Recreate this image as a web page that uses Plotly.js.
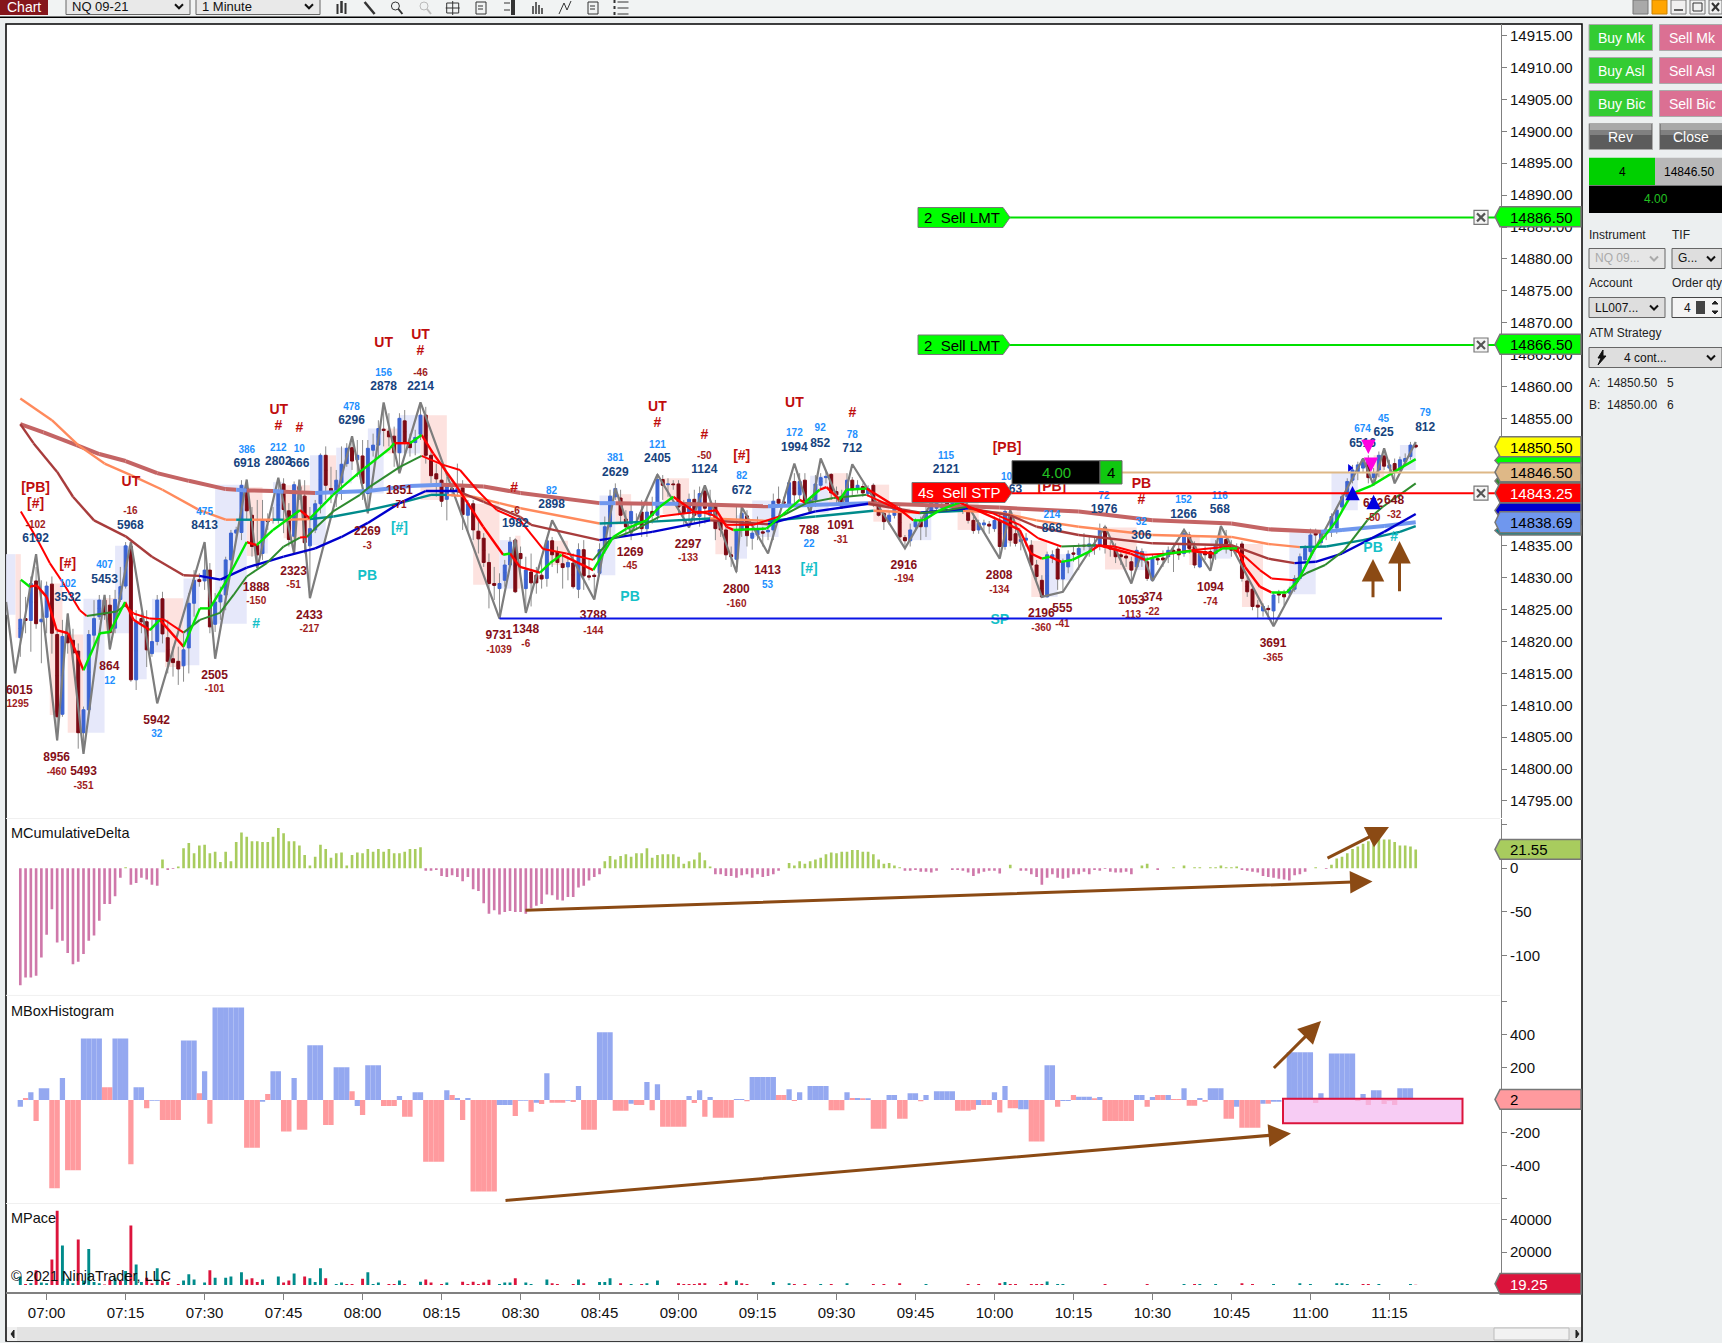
<!DOCTYPE html>
<html>
<head>
<meta charset="utf-8">
<script src="https://cdn.plot.ly/plotly-3.0.1.min.js"></script>
<style>html,body{margin:0;padding:0;background:#eceff0}</style>
</head>
<body>
<div id="plot" style="width:1722px;height:1343px"></div>
<script>
var W = 1722, H = 1343;
var FONT = 'Liberation Sans, Arial, sans-serif';

// 1 minute bars, first bar is 06:55, last is 11:20
var firstMinute = -5;
var priceBase = 14800;
var barOpen = [20.6,23.6,23.3,29.5,23.1,23.8,29,21.1,8.6,21,
 20.2,18.5,5.7,9.3,21,23.9,26.5,25.7,22.1,26.6,
 28.7,34.9,14,23.6,23.1,18.1,20,26.7,20.6,17.3,
 16.9,16.2,19,26,29.7,29.5,31.2,22.7,26.2,27.3,
 32.8,37,37.1,44,39.8,35.1,33.8,39.1,39,39.1,
 44.7,40.5,36.5,44.3,42.8,35,37.5,41.6,49.2,44,
 43.5,44.9,47.9,50.4,48.5,49.1,43.2,50,50.8,53.3,
 53,52.2,49.6,54.6,51.3,51.2,52.5,55.5,49.2,46.3,
 45.3,42.3,44,43.8,44.1,39.8,41.6,37.3,36.2,32.4,
 29.1,28.3,29.6,32,35.9,33.8,28.3,30.9,30.4,30.4,
 29.9,35.8,34.1,32.2,31.7,32.3,28.2,34.4,30.3,30.4,
 30.7,34.5,38,42.7,42.5,39.2,38.5,38.6,40.3,37.7,
 40.4,39.8,45.4,44.6,44.7,44.7,41.2,40.1,42.3,39.6,
 43.6,39.8,41.3,39,37.5,33.6,32.9,37.5,39.7,36.2,
 36.7,37.2,37.2,37.5,42.3,41.9,41.4,45.1,43,45.3,
 41.7,42.2,44.5,45.7,46.2,43.5,42.8,41.7,45.3,44,
 44.3,43.2,44.5,41.7,40.1,38.8,39.8,40.9,36.3,35.8,
 38,38.8,38,40.1,40.9,41,41.7,41.3,41.7,41.4,
 40.4,39,37.5,38.3,38.4,37.7,39,34.9,39.8,36.9,
 35.7,35.9,35.1,32,29.6,27,33.3,34.5,29.8,31.7,
 33.9,33.6,35.1,34.9,34.9,35.1,37.9,34.9,34.5,33.6,
 33.4,32.5,31.7,32.8,32.5,29.6,33,33.1,33.3,34.3,
 34.5,33.8,36.7,34.9,31.7,34.1,34.1,33.8,34.9,36,
 34.9,34.8,35.3,29.5,28.2,25.7,24.8,25.2,24.8,27.5,
 27.4,27.6,28.2,29.9,32.8,34.1,37.2,35.5,36.9,37.8,
 37.8,41.1,42.7,45.3,46.6,47.2,48.5,45.7,46.9,49.1,
 47.2,47.9,46.9,48.2,49,50.8];
var barClose = [23.5,23.3,29.1,22.8,23.5,28.7,21.3,8.2,20.8,19.8,
 18.2,5.7,9.3,21.1,23.6,26.5,24.2,21.4,26.6,28.6,
 35,14,23.1,23.1,18.7,20,26.5,21.2,16.9,16.7,
 15.7,18.7,26,29.6,29.4,31.2,22.3,26.2,27.3,32.8,
 37,37.5,44.5,40.5,34.9,33.6,39,38.8,39.2,43.7,
 40.7,36,44.6,43.8,35.5,37.7,41.6,49.2,44.5,43.3,
 45.3,47.8,50.3,48.3,49.2,44.8,50.3,50.8,53.4,53.1,
 52.1,49.6,55,51.2,50.4,52,55.5,49.2,46,45.5,
 42,44.3,43.8,44,39.9,41.6,37.5,36.1,32.4,29.1,
 28.8,29.1,32,35.6,27.8,33,31.2,29.2,29.2,29.8,
 35.8,33.6,32.4,31.6,32.4,28.6,34.4,30.3,30.1,30.2,
 34.4,38,42.8,44,39.8,38,40.4,38.8,37.7,40.3,
 39.8,45.4,44.5,44.7,44.6,41.1,40.1,42.3,39.8,43.2,
 40.9,41.3,37.7,37.5,33.6,33.3,37.4,40.1,36.6,37,
 37.5,37,37.4,42,41.7,41.7,44.9,43,45.1,41.7,
 42.2,44.7,45.7,45.9,43.3,43,41.7,45.3,43.8,44.5,
 43.3,44,41.7,39.8,38.8,39.8,40.9,36.4,35.8,37.5,
 38.8,38,40.1,41.7,41.7,41.5,41.3,41.7,41.4,40.4,
 39,37.4,38.6,38.6,38.1,39,34.9,40.4,35.9,35.4,
 36,36.2,32,30.2,27,33.6,33.6,29.8,32.5,33.7,
 33.7,34.6,35,35.3,35.3,37.7,34.8,34.5,33.3,33.3,
 33.1,31.2,34.3,34.1,29.9,33,32.8,32.8,34.3,33.8,
 33.6,36.9,34.6,32,33.8,33.6,33.1,35.1,36.2,34.9,
 34.3,34.5,29.9,27.8,25.5,25.4,25.5,25,27.3,27.3,
 27,28.2,29.9,33.3,34.6,36.7,36.7,37,37.2,39.6,
 40.6,42.7,45.1,46.9,47.7,48.5,45.7,46.4,49.2,47.5,
 47.7,46.8,48.5,48.7,50.8,50.5];
var barHigh = [29.6,27,30.2,31.7,29.6,29.4,30.2,21.8,23.4,24.4,
 22,19.7,9.8,21.8,26.5,27.3,27.3,27.3,28.1,31.7,
 35.6,35.6,24.9,24.4,24.9,23.4,27.3,27.8,23.4,19.2,
 19.2,21.3,27.6,31.2,30.7,35.4,32.3,27.6,28.6,33.3,
 37.5,38,45.3,45.3,41.1,42.2,42.2,40.1,41.1,45.6,
 45.6,41.7,45.1,45.3,45.3,41.1,42.2,49.5,50.6,47.4,
 46.9,50.6,51.1,52.1,51.6,51.6,51.6,52.6,54.7,57.3,
 55.8,53.7,55.8,56.3,52.6,53.2,57.3,56.8,50,47.9,
 47.4,45.8,45.3,47.9,45.3,42.2,42.2,39.1,37,33.8,
 31.7,30.7,32.8,36.4,36.2,34.9,33.3,33.8,31.7,32.8,
 36.4,36.4,34.9,33.8,33.3,33.8,35.4,35.9,32.8,30.7,
 35.4,39.6,43.8,44.8,43.8,40.6,41.7,40.1,42.2,42.2,
 42.7,46.4,46.1,45.6,45.3,45.3,42.2,43.2,43.8,44.3,
 44.5,43.8,42.2,39.6,38.5,34.9,41.1,41.1,40.6,38,
 39.6,38,38,43.2,44.3,42.7,45.3,46.4,46.4,46.4,
 42.7,46.1,46.4,46.6,46.4,44.3,43.8,46.4,45.8,45.3,
 44.8,44.5,44.8,42.2,40.6,40.4,41.4,41.7,36.7,38.5,
 39.3,39.6,41.1,42.5,42.2,42.2,42.2,42.2,42,41.9,
 40.8,39.6,39.1,39.1,38.9,39.6,40.1,41.1,40.6,37.7,
 37,37,35.9,32.8,30.4,34.1,34.3,34.9,33,34.3,
 34.9,35.4,37,36.4,36.4,38.5,38.3,35.7,35.4,34.3,
 33.8,33.3,34.9,34.6,33.3,33.6,33.6,34.3,34.9,35.1,
 35.1,37.5,37.2,35.7,34.3,34.9,34.6,35.9,38.1,37.5,
 35.9,35.4,35.7,30.2,28.6,26.5,26,25.7,27.8,28.1,
 28.1,28.6,30.4,33.8,35.1,37.7,37.7,37.5,37.7,40.1,
 41.1,43.2,45.6,47.7,48.2,48.7,49.2,47.2,49.8,50.3,
 48.5,48.7,49,49.5,51.3,51.3];
var barLow = [17.6,21.3,18.4,22,16.6,21.3,18.1,4.5,8.2,18.1,
 17.1,3.2,2.5,8.7,19.2,23.4,23.4,18.7,21.3,26.2,
 28.3,13.7,12.4,21.3,16,17.6,19.4,19.7,15,14.5,
 13.2,13.7,15,23.9,28.6,28.1,21.3,21.5,23.4,24.9,
 31.2,35.9,35.9,39,33.3,31.7,32.8,37.5,38.5,38.5,
 37,34.9,33.8,42.2,33.8,27,37,40.1,42.2,41.7,
 41.1,42.2,47.4,46.9,45.8,42.2,40.6,49,49,50.6,
 50.6,47.4,46.4,49.5,49,49.2,51.6,47.9,44.8,42.7,
 41.1,39,42.7,42.7,37.5,37,35.9,33.8,31.7,25.2,
 26.5,23.9,28.6,31.7,27.6,30.7,24.7,25.5,27.5,28.3,
 28.6,31.7,30.7,28.3,29.6,28.3,26.8,28.1,29.6,27,
 30.2,33.8,35.9,42.2,38.5,36.4,35.9,37.5,36.4,36.4,
 38.5,39,42.2,42.7,43.8,39.8,38.3,38.5,38.5,38,
 38.5,39,35.9,36.4,32.8,31.7,30.7,36.4,34.9,34.4,
 35.9,34.9,35.9,35.9,41.1,41.1,40.6,41.7,42.2,41.4,
 40.1,41.1,43.8,44.8,42.2,41.7,40.9,41.4,42.7,43.2,
 42.7,42.7,41.1,39.6,37.5,38.3,39.3,35.9,34.6,34.9,
 37.2,35.9,36.4,39.6,40.6,40.6,40.8,40.8,40.9,40,
 38.5,36.9,36.9,37,36.9,37.2,33.3,34.4,34.9,34.9,
 34.3,34.9,31.2,29.6,26.9,26.9,32.3,28.1,27.8,30.7,
 32.5,31.2,34.3,33.3,33.6,34.3,33.8,33.3,32.3,32,
 31.7,29.1,31.2,31.7,29.5,29.4,32,31.7,32.3,30.9,
 32.8,33.3,33.8,31.5,31.5,32.8,31.1,32.8,34.3,33.8,
 33.3,33.8,29.4,27,24.9,23.6,23.9,23.4,22.4,26,
 25.7,27,27.8,29.6,32.3,33.6,34.9,34.9,35.9,36.4,
 36.9,40.6,42.2,44.8,45.3,46.4,44.8,44.5,45.8,46.9,
 46.4,44.8,46.4,47.7,48.5,50.3];

// MCumulativeDelta, one value per bar
var deltaVal = [-134,-125,-125,-123,-102,-76,-47,-85,-83,-97,
 -110,-107,-98,-83,-77,-60,-41,-41,-32,-11,
 1,-19,-17,-11,-13,-19,-20,10,-2,-1,
 2,23,29,17,26,27,17,19,7,19,
 8,30,41,36,31,31,30,30,36,46,
 40,31,31,26,15,3,13,27,22,12,
 17,18,3,15,18,17,22,19,22,19,
 22,17,17,19,22,22,24,-3,-3,-2,
 -9,-10,-8,-10,-15,-10,-24,-26,-40,-52,
 -48,-53,-50,-49,-50,-50,-52,-46,-43,-41,
 -30,-31,-36,-37,-33,-33,-22,-20,-14,-10,
 -7,8,14,10,14,16,13,17,17,23,
 12,15,16,16,16,13,5,8,10,18,
 9,2,-7,-7,-9,-9,-11,-8,-7,-11,
 -7,-10,-9,-7,-3,0,6,3,8,5,
 8,10,12,16,18,17,19,19,21,21,
 19,19,16,10,5,6,3,1,-3,-3,
 -2,-4,-4,-5,-3,0,0,-2,-2,-3,
 -5,-9,-6,-4,-3,-3,-6,0,4,0,
 -3,-3,-7,-10,-19,-11,-7,-11,-12,-11,
 -7,-7,-4,-7,-2,-3,-1,-4,-5,-5,
 -4,-7,0,3,5,0,-2,0,0,1,
 0,3,0,1,1,0,1,1,3,1,
 1,2,-2,-3,-4,-5,-9,-10,-11,-12,
 -13,-14,-8,-7,-4,0,1,0,-1,4,
 11,13,17,22,25,28,31,30,34,33,
 33,30,26,26,25,21.55];

// MBoxHistogram, boxKind 1 = blue, 0 = red
var boxVal = [-41,12,48,-128,72,72,-540,-540,134,-430,
 -430,-430,376,376,376,376,78,78,376,376,
 376,-393,78,78,-50,-5,-5,-122,-122,-122,
 -122,364,364,364,41,176,-145,565,565,565,
 565,565,565,-292,-292,-292,-10,37,176,176,
 -192,-192,134,-182,-182,335,335,335,-153,-153,
 200,200,200,54,-37,-91,213,213,213,-37,
 -37,-37,25,-103,-103,48,48,-378,-378,-378,
 -378,60,31,12,-122,12,-560,-560,-560,-560,
 -560,-31,-31,-31,-97,-4,-4,-72,-17,-25,
 163,-17,-17,-17,-4,-12,85,-182,-182,-182,
 414,414,414,-66,-66,-66,-23,-31,-31,110,
 -62,97,-163,-163,-163,-163,-163,25,-19,60,
 -103,19,-108,-108,-108,-108,6,6,-8,140,
 140,140,140,140,31,31,66,-6,48,0,
 85,85,85,85,-62,-62,-62,48,12,12,
 10,10,-176,-176,-176,31,31,-114,-114,41,
 41,-8,31,0,54,54,54,54,-66,-66,
 -66,-60,-31,-31,-31,48,-76,85,-50,-50,
 -56,-56,-254,-254,-254,213,213,-41,-6,-6,
 31,20,20,20,10,19,-128,-128,-128,-128,
 -128,-128,31,31,-41,19,31,31,31,6,
 6,72,-35,-35,12,-10,72,72,72,-114,
 -114,-41,-170,-170,-170,-170,-23,-23,-10,-10,
 0,292,292,292,292,292,-19,41,0,285,
 285,285,285,285,-6,37,-31,60,60,-25,
 -6,-31,72,72,72,2];
var boxKind = [1,0,1,0,1,1,0,0,1,0,
 0,0,1,1,1,1,0,0,1,1,
 1,0,1,1,0,1,1,0,0,0,
 0,1,1,1,0,1,0,1,1,1,
 1,1,1,0,0,0,1,0,1,1,
 0,0,1,0,0,1,1,1,0,0,
 1,1,1,0,1,0,1,1,1,0,
 0,0,1,0,0,1,1,0,0,0,
 0,1,0,1,0,1,0,0,0,0,
 0,1,1,1,0,1,1,0,1,0,
 1,0,0,0,1,0,1,0,0,0,
 1,1,1,0,0,0,1,0,0,1,
 0,1,0,0,0,0,0,1,0,1,
 0,1,0,0,0,0,1,1,0,1,
 1,1,1,1,0,0,1,0,1,1,
 1,1,1,1,0,0,0,1,0,1,
 0,1,0,0,0,1,1,0,0,1,
 1,0,1,1,1,1,1,1,0,0,
 0,0,1,0,0,1,0,1,0,0,
 1,1,0,0,0,1,1,0,1,1,
 0,1,1,1,0,1,0,0,0,0,
 0,0,1,1,0,1,0,0,1,0,
 0,1,0,0,1,0,1,1,1,0,
 0,1,0,0,0,0,1,0,1,1,
 1,1,1,1,1,1,0,1,1,1,
 1,1,1,1,0,1,0,1,1,0,
 0,0,1,1,1,0];

// MPace
var paceRedMin = [-4,-2,1,2,6,11,12,14,16,19,20,22,23,25,31,38,39,40,45,46,49,53,57,58,60,65,66,68,72,73,75,79,80,81,82,83,84,89,96,97,100,102,109,113,120,121,122,123,124,125,128,129,132,133,142,144,149,157,159,162,175,177,181,183,184,187,188,189,201,209,218,227,229,250,251,260];
var paceRedVal = [600,8900,15600,45300,27700,300,3100,2700,36400,4400,1000,2700,1700,600,8900,3300,4000,1700,1500,2700,5200,4000,600,600,3700,600,600,600,3300,1500,600,1900,600,1900,600,1500,3100,4000,1000,600,600,1000,1000,600,1000,600,600,600,1000,1000,600,1900,1000,600,600,600,600,600,600,1000,600,600,1000,600,600,600,600,600,600,600,600,1000,600,600,600,19.25];
var paceTealMin = [-5,-3,-1,0,3,4,5,7,8,9,10,13,15,17,18,21,26,27,28,30,32,34,35,37,41,44,47,50,51,52,55,56,61,62,63,67,71,76,86,87,88,91,92,95,101,105,106,107,111,114,116,131,138,141,147,152,167,182,190,192,193,216,219,222,233,238,240,245,246,247,253,259];
var paceTealVal = [5200,1000,1500,1000,24100,3700,1000,2700,22000,1700,1000,4600,8500,12500,1700,10200,2700,6500,3300,1500,4400,4400,5200,7700,3300,5200,6900,4000,1700,10200,600,1500,7700,600,1500,2700,1900,1500,600,1500,1500,1500,600,3300,3300,1700,1700,4000,600,1000,2700,2700,1700,1000,600,1000,600,1700,2100,600,600,600,600,600,600,1000,600,1000,1000,600,600,600];

// swing line
var swingMin = [-7.7,-6,-2,2,4,7,11,12,16,21,30,32,38,40,44,47,48,50,58,61,64,67,71,86,89,91,96,104,108,111,116,122,125,131,132,137,142,145,147,151,153,163,168,173,181,183,189,193,201,206,208,210,216,221,223,233,250,252,254,256,260];
var swingPrice = [14826.2,14815,14833.7,14804.5,14824.4,14802.4,14827.3,14818.8,14835.6,14810.3,14835.6,14817.3,14845.4,14831.5,14845.7,14833.8,14845.4,14826.8,14852.2,14840.1,14857.5,14846.4,14857.5,14823.6,14836,14824.5,14839,14826.6,14844,14836.9,14846.2,14837.9,14844.5,14830.9,14841.1,14833.8,14847.9,14840.1,14848.7,14840.9,14847.8,14834.6,14841.7,14844,14833,14840.6,14827,14827.8,14838,14829.1,14834.1,14829.5,14837.5,14831.1,14838.1,14822.4,14848.7,14844.5,14850.3,14844.8,14851.3];

// moving averages, the Up flag says which colour the segment from that point takes
var slowMin = [-5,-0.6,5.7,10,15,21,27,34,36,38,43,45,51,61,69,75,83,90,105,108,115,120,137,156,181,196,210,225,232,242,246,254,260];
var slowPrice = [14854.1,14852.8,14850.8,14849.4,14848.3,14846.4,14845.2,14843.9,14843.8,14843.7,14843.6,14843.5,14843.3,14843.6,14844.4,14844.6,14844.3,14843.3,14841.7,14841.7,14841.6,14841.6,14841.2,14841.7,14841,14840.4,14839,14838.5,14837.6,14837.2,14837.5,14838.1,14838.7];
var slowUp = [0,0,0,0,0,0,0,0,1,0,1,0,1,1,1,0,0,0,1,0,1,0,1,0,0,0,0,0,0,1,1,1,1];

var midMin = [-5,1,6,11,16,22,29,34,36,39,43,45,50,54.5,61,67,73,76,81,86,90,105,115,126,137,146,157,166,174,181,188,196,210,225,232,238,243,250,257,260];
var midPrice = [14858.1,14854.7,14850.8,14847.9,14846.1,14843.8,14840.6,14839.1,14839.1,14839.1,14839.1,14839.1,14839.2,14839.6,14840.6,14841.7,14843,14843,14842.7,14841.7,14840.9,14838.5,14838.8,14839.3,14838.9,14839.6,14840.5,14840.2,14840.5,14840.2,14839,14838,14836.7,14836.4,14835.3,14834.8,14834.9,14835.9,14837.2,14838.1];
var midUp = [0,0,0,0,0,0,0,0,1,0,1,0,1,1,1,1,1,0,0,0,0,1,1,0,1,1,0,1,0,0,0,0,0,0,0,1,1,1,1,1];

var trendMin = [-5,-2.5,2,5,9,15,20,26,29,33,38,45,51,56,61,67,72,78,83,90,92,105,115,126,137,146,156,166,175,183,188,196,210,225,232,237,241,246,254,260];
var trendPrice = [14854.1,14851.1,14846.6,14842.7,14839,14836.5,14833.3,14830.4,14830.3,14829.7,14831.6,14833.3,14834.6,14836.4,14838.6,14841.7,14843.6,14843.6,14841.9,14839.5,14838.3,14835.9,14837.2,14839,14838.4,14840.4,14841.6,14840.2,14840.9,14839.8,14838,14836.7,14835.4,14835.1,14833,14832.3,14832.5,14833.8,14837.2,14840];
var trendUp = [0,0,0,0,0,0,0,0,1,1,1,1,1,1,1,1,1,0,0,0,0,1,1,0,1,1,0,1,0,0,0,0,0,0,0,1,1,1,1,1];

var fastMin = [-4.9,-3.2,-1.9,0,1.9,4.1,7,10.1,12,14.9,16.5,19.6,21.5,26,29.1,31,34.2,38,39.9,43,48.1,50,54.4,59.5,65.2,66,69,71.2,73.4,77.9,82.9,86.7,88,89.9,93.7,95.6,97.8,103.8,107.6,110.1,113.9,116.4,119,123.4,127.2,129.1,130.4,136.7,140.5,143,144,146.8,148.1,150.6,151.9,155.7,161.4,164.6,166.5,169.6,173.4,181,184.8,186.9,189,190.5,192.7,194.8,198.5,199.9,205.8,208.6,213,217.4,221.7,223.2,226.1,227.6,230.4,232.6,235.5,237.7,240.6,245,247.9,251.5,255.9,260];
var fastPrice = [14829.7,14828.6,14828.8,14827,14821.8,14821.3,14815.5,14821.3,14821.5,14826.2,14823.4,14821.8,14823.4,14819.2,14825.2,14825.2,14829.6,14835.6,14835.1,14837.5,14840.6,14839.3,14843,14846.6,14850.3,14851.1,14851.1,14852.4,14849.5,14844.3,14838,14833.6,14833.8,14831.7,14830.8,14832.3,14833.6,14831.2,14836.4,14837.7,14839,14841.1,14842.7,14840.1,14840.6,14838,14837.5,14837.7,14840.4,14842.2,14841.8,14843.8,14844.2,14842.2,14843.8,14844,14841.1,14839,14839,14840.6,14841.8,14839,14837.5,14833.8,14833,14833.3,14832.5,14832.8,14834.3,14835.1,14833.8,14832.8,14833.8,14834.2,14833.8,14834.6,14834.6,14831.7,14828.6,14827.7,14827.7,14829.6,14834.3,14839,14843.2,14844.4,14846.6,14848.6];
var fastUp = [1,0,0,0,0,0,1,1,1,0,0,1,0,1,1,1,1,0,1,1,0,1,1,1,1,0,1,0,0,0,0,1,0,0,1,1,0,1,1,1,1,1,0,0,0,0,1,1,1,0,1,0,0,1,1,0,0,1,1,1,0,0,0,0,1,0,1,1,0,0,0,1,1,0,1,1,0,0,0,1,1,1,1,1,1,1,1,1];

var signalMin = [-4.9,-1.9,0.6,3.2,6.3,7.6,13.3,14.9,16.5,19.6,22.2,26,29.1,32.9,35.5,38,41.8,45,48.1,49.4,51.3,54.4,59.5,61.4,67.1,71.2,75.3,78.5,81.7,85.5,89.9,94.3,98.7,103.8,106.9,111.4,116.4,124,126.6,129.1,134.2,139.9,144.3,149.4,155.7,162,165.8,170.9,174.7,179.7,184.8,188.3,192.7,199.2,202.8,208.6,213.7,217.4,224.6,227.6,230.4,232.6,237,239.2,242.8,246.4,250.8,253.7,260];
var signalPrice = [14840.4,14836.2,14832.3,14829.1,14824.9,14824,14824.7,14825.7,14824.4,14823.6,14823.5,14821.4,14823.4,14824.5,14827.3,14830.2,14832.3,14834.9,14836.3,14836.4,14838,14840.4,14843,14844.3,14847.4,14849.1,14847.7,14846.9,14843.8,14840.6,14839,14834.5,14833.8,14832.8,14835.9,14837.4,14839.6,14840.4,14839.8,14838.3,14838.3,14839.8,14841.7,14842.5,14843,14840.6,14840.1,14840.6,14841.1,14840.1,14838.3,14836.2,14834.9,14835.1,14834.9,14833.6,14833.8,14834.3,14834.9,14833.3,14831.2,14829.9,14829.6,14830.7,14832,14834.3,14839,14841.1,14844.8];
var signalUp = [0,0,0,0,0,1,1,0,0,0,0,1,1,1,1,1,1,1,0,1,1,1,1,1,1,0,0,0,0,0,0,0,0,1,1,1,0,0,0,0,0,1,1,1,0,0,1,1,0,0,0,0,1,0,0,0,0,0,0,0,0,0,1,1,1,1,1,1,1];

// shaded swing zones, zoneKind 1 = blue, 0 = pink
var zoneStart = [-7.7,-5.9,0.6,4,7,11,13,16,20,22.5,26,32,38,41,43,45,50,53,55,61,64,67,71,81,86,89,95,105,108,117,127,131,134,145,148.5,157,162,164,168,173,181,187,190,192,196,201,207,217,221,227,236,244,252,257];
var zoneEnd = [-5.9,-4.9,3,7,11,13,16,19,22.5,26,29,38,41,42,45,50,53,55,58,64,67,71,76,86,89.5,90,99,108,111,122,131,133,139,148.5,152,160,164,168,171,177,185,190,192,195,199,207,209,219,225,231,241,249,254,260];
var zoneLow = [14824.2,14820.6,14808.5,14805.7,14805.7,14821.3,14821.3,14814.1,14818.3,14816,14816.3,14822.8,14833.4,14833.8,14839,14836.2,14835.1,14843.2,14844.8,14843.2,14849.5,14849.5,14842.2,14828.9,14828.3,14828.3,14832,14830.4,14838.3,14840,14833.7,14833,14836.4,14840.1,14841.7,14838.8,14835.9,14835.9,14840.6,14837.5,14835.4,14827,14827,14829.6,14833.8,14831.3,14831.2,14832,14833,14825.4,14827.4,14840.6,14845.7,14846.9];
var zoneHigh = [14833.7,14833.7,14829.1,14821.1,14826.7,14826.8,14835,14823.1,14826.7,14826.8,14829.9,14844.6,14844.2,14839,14845,14844.5,14849.2,14849.2,14850.4,14853.4,14853.4,14855.5,14855.5,14841.6,14835.9,14836.6,14835.8,14842.9,14843.1,14845.6,14841.3,14839.8,14842.1,14846,14846.4,14844.6,14840.9,14840.1,14841.7,14841.7,14840.4,14835.8,14833.6,14833.7,14835.3,14837.9,14834.2,14836.7,14836.2,14835.3,14837.1,14846.6,14849.2,14850.8];
var zoneKind = [1,0,0,0,1,0,1,1,1,0,1,1,0,1,1,0,1,0,1,1,0,1,0,0,1,0,0,1,0,0,0,1,1,1,0,0,0,1,1,0,0,0,1,1,1,0,1,0,1,0,1,1,0,1];

// text labels on the price panel
var navyText = ['6192','5968','5453','3532','8413','6918','2802','666','6296','2878','2214','1982','2898','2629','2405','1124','672','1994','852','712','2121','63','868','1976','306','1266','568','6516','625','812'];
var navyMin = [-2.1,15.9,11,4,30,38,44,48,57.9,64,71,89,95.9,108,116,124.9,132,142,146.9,153,170.8,184,190.9,200.8,207.9,215.9,222.8,249.9,253.9,261.8];
var navyPrice = [14836.05,14838.15,14829.65,14826.85,14838.15,14847.85,14848.15,14847.85,14854.55,14859.85,14859.85,14838.45,14841.45,14846.45,14848.65,14846.85,14843.65,14850.35,14851.05,14850.25,14846.85,14843.75,14837.65,14840.65,14836.55,14839.85,14840.65,14851.05,14852.65,14853.55];

var lightText = ['102','407','475','386','212','10','478','156','12','32','82','381','121','82','172','92','78','115','22','53','10','214','72','32','152','116','674','45','79'];
var lightMin = [4,11,30,38,44,48,57.9,64,12,20.9,95.9,108,116,132,142,146.9,153,170.8,144.8,136.9,182.3,190.9,200.8,207.9,215.9,222.8,249.9,253.9,261.8];
var lightPrice = [14828.95,14831.85,14840.25,14849.95,14850.25,14850.05,14856.75,14862.05,14813.75,14805.35,14843.55,14848.65,14850.75,14845.85,14852.55,14853.35,14852.35,14849.05,14835.15,14828.85,14845.75,14839.75,14842.75,14838.65,14842.05,14842.75,14853.25,14854.85,14855.75];

var lowText = ['6015','8956','5493','864','5942','2505','1888','2323','2433','2269','1851','9731','1348','3788','1269','2297','2800','1413','788','1091','2916','2808','2196','555','1053','374','1094','3691','672','648'];
var lowMin = [-5.2,1.9,7,11.9,20.9,31.9,39.8,46.9,49.9,60.9,67,85.9,91,103.8,110.8,121.8,131,136.9,144.8,150.8,162.8,180.9,188.9,192.9,206,210,221,232.9,251.9,255.9];
var lowPrice = [14812.25,14801.75,14799.55,14815.95,14807.55,14814.65,14828.35,14830.85,14823.95,14837.15,14843.55,14820.85,14821.75,14823.95,14833.85,14835.15,14828.05,14831.05,14837.35,14838.05,14831.85,14830.25,14824.25,14825.05,14826.35,14826.75,14828.35,14819.65,14841.55,14842.05];

var negText = ['-102','-16','1295','-460','-351','-150','-51','-217','-3','-101','-71','-46','-1039','-6','-6','-144','-45','-133','-50','-160','-31','-194','-134','-360','-41','-113','-22','-74','-365','-50','-32'];
var negMin = [-2.1,15.9,-5.5,1.9,7,39.8,46.9,49.9,60.9,31.9,67,71,85.9,89,91,103.8,110.8,121.8,124.9,131,150.8,162.8,180.9,188.9,192.9,206,210,221,232.9,251.9,255.9];
var negPrice = [14838.25,14840.35,14810.05,14799.45,14797.25,14826.25,14828.75,14821.85,14834.95,14812.45,14841.35,14862.05,14818.65,14840.45,14819.55,14821.65,14831.75,14832.95,14849.05,14825.85,14835.85,14829.65,14828.05,14822.05,14822.75,14824.15,14824.55,14826.15,14817.35,14839.35,14839.75];

var flagText = ['[PB]','[#]','[#]','UT','UT','#','#','UT','UT','#','#','UT','#','#','[#]','UT','#','[PB]','[PB]','PB','#'];
var flagMin = [-2.1,-2.1,4,16,44.1,44,48,64,71,71,88.8,116,116,124.9,132,142,153,182.4,190.9,207.9,207.9];
var flagPrice = [14844.05,14841.55,14832.15,14844.95,14856.25,14853.65,14853.45,14866.75,14867.95,14865.45,14844.05,14856.65,14854.25,14852.35,14848.95,14857.25,14855.75,14850.25,14844.15,14844.55,14842.05];

var tealText = ['#','PB','[#]','PB','[#]','SP','PB','#'];
var tealMin = [39.8,60.9,67,110.8,144.8,181,251.9,255.9];
var tealPrice = [14822.65,14830.15,14837.75,14826.85,14831.35,14823.25,14834.55,14836.25];

// small entry arrows, price is where the head points
var entryDownMin = [251,251.5], entryDownPrice = [14849.4,14846.6];
var entryUpMin = [248,252], entryUpPrice = [14844.4,14843];
var entryMarkMin = [247.5], entryMarkPrice = [14847.2];

// order and price levels
var supportPrice = 14823.6;
var limit1 = 14886.5, limit2 = 14866.5, stopPrice = 14843.25, avgPrice = 14846.5;
var priceTicks = [14915,14910,14905,14900,14895,14890,14885,14880,14875,14870,14865,14860,14855,14850,14845,14840,14835,14830,14825,14820,14815,14810,14805,14800,14795];
var timeTickMin = [0,15,30,45,60,75,90,105,120,135,150,165,180,195,210,225,240,255];

function msOf(m) { return Date.UTC(2021, 7, 4, 7, 0, 0) + m * 60000; }
function timeOf(m) { return new Date(msOf(m)).toISOString().slice(0, 19).replace('T', ' '); }
function px(v) { return v / W; }
function py(v) { return 1 - v / H; }

var barTime = barOpen.map(function (v, i) { return timeOf(firstMinute + i); });
var o = barOpen.map(function (v) { return v + priceBase; });
var c = barClose.map(function (v) { return v + priceBase; });
var h = barHigh.map(function (v) { return v + priceBase; });
var l = barLow.map(function (v) { return v + priceBase; });
var mid = o.map(function (v, i) { return (v + c[i]) / 2; });
var top_ = o.map(function (v, i) { return Math.max(v, c[i]); });
var bot = o.map(function (v, i) { return Math.min(v, c[i]); });

var data = [];

// wicks first, then bodies on top of them
data.push({
  type: 'candlestick', x: barTime, open: mid, high: h, low: l, close: mid, whiskerwidth: 0,
  increasing: { line: { color: '#8c8c8c', width: 1 }, fillcolor: '#8c8c8c' },
  decreasing: { line: { color: '#8c8c8c', width: 1 }, fillcolor: '#8c8c8c' },
  xaxis: 'x', yaxis: 'y', hoverinfo: 'skip', showlegend: false
});
data.push({
  type: 'candlestick', x: barTime, open: o, high: top_, low: bot, close: c, whiskerwidth: 0,
  increasing: { line: { color: '#3c64d2', width: 1 }, fillcolor: '#3c64d2' },
  decreasing: { line: { color: '#7d0a14', width: 1 }, fillcolor: '#7d0a14' },
  xaxis: 'x', yaxis: 'y', hoverinfo: 'skip', showlegend: false
});

// two coloured line
function colouredLine(mins, prices, flags, upColor, downColor, width) {
  var up = { x: [], y: [] }, down = { x: [], y: [] };
  for (var i = 0; i < mins.length - 1; i++) {
    var t = flags[i] ? up : down;
    t.x.push(timeOf(mins[i]), timeOf(mins[i + 1]), null);
    t.y.push(prices[i], prices[i + 1], null);
  }
  [[down, downColor], [up, upColor]].forEach(function (p) {
    data.push({ type: 'scatter', mode: 'lines', x: p[0].x, y: p[0].y, line: { color: p[1], width: width, shape: 'linear' }, xaxis: 'x', yaxis: 'y', hoverinfo: 'skip' });
  });
}

data.push({ type: 'scatter', mode: 'lines', x: swingMin.map(timeOf), y: swingPrice, line: { color: '#7d7d7d', width: 2.2 }, xaxis: 'x', yaxis: 'y', hoverinfo: 'skip' });
colouredLine(slowMin, slowPrice, slowUp, '#6f97ee', '#c46464', 4);
colouredLine(midMin, midPrice, midUp, '#008b8b', '#ff8a5c', 2.4);
colouredLine(trendMin, trendPrice, trendUp, '#0000cd', '#a83c3c', 2.4);
colouredLine(signalMin, signalPrice, signalUp, '#2e8b2e', '#ff0000', 2);
colouredLine(fastMin, fastPrice, fastUp, '#00e800', '#ff0000', 2.4);

function labels(mins, prices, texts, color, size) {
  data.push({
    type: 'scatter', mode: 'text', x: mins.map(timeOf), y: prices, text: texts,
    textposition: 'middle center', cliponaxis: true,
    textfont: { family: FONT, size: size, color: color, weight: 'bold' },
    xaxis: 'x', yaxis: 'y', hoverinfo: 'skip'
  });
}
labels(navyMin, navyPrice, navyText, '#16437e', 12);
labels(lightMin, lightPrice, lightText, '#1e90ff', 10);
labels(lowMin, lowPrice, lowText, '#850f18', 12);
labels(negMin, negPrice, negText, '#a01c1c', 10);
labels(flagMin, flagPrice, flagText, '#c00d0d', 14);
labels(tealMin, tealPrice, tealText, '#14c0c8', 14);

data.push({ type: 'scatter', mode: 'markers', x: entryMarkMin.map(timeOf), y: entryMarkPrice, marker: { symbol: 'triangle-right', size: 7, color: '#0000e0' }, xaxis: 'x', yaxis: 'y', hoverinfo: 'skip' });

// delta panel
data.push({
  type: 'bar', x: barTime, y: deltaVal, width: 30000,
  marker: { color: deltaVal.map(function (v) { return v >= 0 ? '#a8cc5e' : '#cf78aa'; }), line: { width: 0 } },
  xaxis: 'x', yaxis: 'y2', hoverinfo: 'skip'
});
// box histogram panel
data.push({
  type: 'bar', x: barTime, y: boxVal, width: 60000,
  marker: { color: boxKind.map(function (k) { return k ? '#94a8f0' : '#ff9a9e'; }), line: { width: 0 } },
  xaxis: 'x', yaxis: 'y3', hoverinfo: 'skip'
});
// pace panel
data.push({
  type: 'bar', x: paceRedMin.map(timeOf), y: paceRedVal, width: 33000,
  marker: { color: '#dc143c', line: { width: 0 } }, xaxis: 'x', yaxis: 'y4', hoverinfo: 'skip'
});
data.push({
  type: 'bar', x: paceTealMin.map(timeOf), y: paceTealVal, width: 33000,
  marker: { color: '#008b8b', line: { width: 0 } }, xaxis: 'x', yaxis: 'y4', hoverinfo: 'skip'
});

var shapes = [];
var ann = [];

function rect(x0, y0, x1, y1, fill, lineColor, lineWidth, layer) {
  shapes.push({
    type: 'rect', xref: 'paper', yref: 'paper', x0: px(x0), x1: px(x1), y0: py(y0), y1: py(y1),
    fillcolor: fill, line: { color: lineColor || fill, width: lineWidth === undefined ? 0 : lineWidth }, layer: layer || 'above'
  });
}
function seg(x0, y0, x1, y1, color, width) {
  shapes.push({ type: 'line', xref: 'paper', yref: 'paper', x0: px(x0), x1: px(x1), y0: py(y0), y1: py(y1), line: { color: color, width: width }, layer: 'above' });
}
function text(x, y, s, size, color, anchor, weight) {
  ann.push({ xref: 'paper', yref: 'paper', x: px(anchor ? x : x - 2), y: py(y), text: s, showarrow: false, xanchor: anchor || 'left', yanchor: 'middle', font: { family: FONT, size: size, color: color, weight: weight || 'normal' } });
}
function poly(pts, fill, lineColor, lineWidth) {
  var d = pts.map(function (p, i) { return (i ? 'L' : 'M') + px(p[0]) + ',' + py(p[1]); }).join(' ') + ' Z';
  shapes.push({ type: 'path', xref: 'paper', yref: 'paper', path: d, fillcolor: fill, line: { color: lineColor || fill, width: lineWidth === undefined ? 1 : lineWidth }, layer: 'above' });
}
// price tag on the right of the axis
function tag(y0, y1, fill, s, color, border) {
  var m = (y0 + y1) / 2;
  poly([[1495, m], [1500, y0], [1581, y0], [1581, y1], [1500, y1]], fill, border || '#777', 1.5);
  if (s) text(1510, m + 0.5, s, 15, color);
}
function closeBox(y) {
  rect(1474, y - 7, 1488, y + 7, '#f4f4f4', '#777', 1.2);
  seg(1477, y - 4, 1485, y + 4, '#555', 2.2);
  seg(1477, y + 4, 1485, y - 4, '#555', 2.2);
}
function arrow(x0, y0, x1, y1) {
  ann.push({
    xref: 'paper', yref: 'paper', x: px(x1), y: py(y1), ax: x0 - x1, ay: y0 - y1, axref: 'pixel', ayref: 'pixel',
    text: ' ', font: { size: 1 }, borderpad: 0, showarrow: true, arrowhead: 2, arrowsize: 1.5, arrowwidth: 3, arrowcolor: '#8b4a14', standoff: 0
  });
}
function entryArrow(m, price, dy, color) {
  ann.push({
    xref: 'x', yref: 'y', x: timeOf(m), y: price, ax: 0, ay: dy, axref: 'pixel', ayref: 'pixel',
    text: ' ', font: { size: 1 }, borderpad: 0, showarrow: true, arrowhead: 2, arrowsize: 1.1, arrowwidth: 2.6, arrowcolor: color, standoff: 0
  });
}
entryArrow(entryDownMin[0], entryDownPrice[0], -12, '#ff00e0');
entryArrow(entryDownMin[1], entryDownPrice[1], -8, '#ff00e0');
entryArrow(entryUpMin[0], entryUpPrice[0], 14, '#0000e0');
entryArrow(entryUpMin[1], entryUpPrice[1], 12, '#0000e0');

// white chart area behind the panels
rect(6, 24, 1582, 1341, '#ffffff', '#000', 1.5, 'below');

// swing zones in price coordinates
for (var z = 0; z < zoneStart.length; z++) {
  shapes.push({
    type: 'rect', xref: 'x', yref: 'y', x0: timeOf(zoneStart[z]), x1: timeOf(zoneEnd[z]), y0: zoneLow[z], y1: zoneHigh[z],
    fillcolor: zoneKind[z] ? '#e6e8fa' : '#fde2df', line: { width: 0 }, layer: 'below'
  });
}

// panel separators
[818.5, 995.4, 1203.5].forEach(function (y) { seg(6, y, 1500, y, '#f0f0f0', 1); });

// support line, drawn in price coordinates
shapes.push({ type: 'line', xref: 'x', yref: 'y', x0: timeOf(86), x1: timeOf(265), y0: supportPrice, y1: supportPrice, line: { color: '#0a14e6', width: 2 }, layer: 'above' });

// working orders
function orderLine(price, color, x0) {
  shapes.push({ type: 'line', xref: 'paper', yref: 'y', x0: px(x0), x1: px(1495), y0: price, y1: price, line: { color: color, width: 2 }, layer: 'above' });
}
orderLine(limit1, '#00e000', 1008);
orderLine(limit2, '#00e000', 1008);
orderLine(avgPrice, '#deb887', 1122);
orderLine(stopPrice, '#ff0000', 1010);
closeBox(217.4); closeBox(345); closeBox(493.2);
function orderTag(x0, x1, y0, y1, fill, s, color) {
  poly([[x0, y0], [x1 - 7, y0], [x1, (y0 + y1) / 2], [x1 - 7, y1], [x0, y1]], fill, '#777', 1);
  text(x0 + 6, (y0 + y1) / 2 + 0.5, s, 15, color);
}
orderTag(918, 1010, 207.5, 227.5, '#00ff00', '2  Sell LMT', '#000');
orderTag(918, 1010, 335, 354.5, '#00ff00', '2  Sell LMT', '#000');
orderTag(912, 1012, 482.5, 502.5, '#ff0000', '4s  Sell STP', '#fff');
rect(1012, 460.7, 1100, 484, '#000', '#666', 1);
rect(1100, 460.7, 1122, 484, '#10c810', '#666', 1);
text(1056, 472.5, '4.00', 15, '#22c022', 'center');
text(1111, 472.5, '4', 15, '#000', 'center');

// right axis tags, back to front
tag(206.7, 226.7, '#00ff00', '14886.50', '#000');
tag(334.3, 354.3, '#00ff00', '14866.50', '#000');
tag(455, 466, '#00ff00', '', '#000');
tag(436.7, 456.7, '#ffff00', '14850.50', '#000');
tag(475, 487, '#2e8b2e', '', '#000');
tag(462.7, 481.7, '#deb887', '14846.50', '#000');
tag(483, 502.7, '#ff0000', '14843.25', '#fff');
tag(503, 518, '#0000cd', '', '#fff');
tag(526, 535, '#008b8b', '', '#fff');
tag(511.7, 532.7, '#6f97ee', '14838.69', '#000');
tag(839.6, 859.3, '#a8cc5e', '21.55', '#000');
tag(1089.6, 1109.3, '#ff9a9e', '2', '#000');
tag(1273.6, 1294, '#dc143c', '19.25', '#fff');

// pink box on the histogram
rect(1283, 1098.8, 1462.5, 1123.3, 'rgba(244,184,240,0.72)', '#dc143c', 2);

// drawn arrows
arrow(525, 910.3, 1372.5, 881.4);
arrow(1327, 858.3, 1389, 827);
arrow(505, 1200.5, 1291, 1133.5);
arrow(1273.4, 1068.5, 1321, 1021);
arrow(1373, 598.3, 1373, 559);
arrow(1399.5, 592.3, 1399.5, 541);

// panel names
text(11, 833, 'MCumulativeDelta', 14.5, '#111');
text(11, 1010.7, 'MBoxHistogram', 14.5, '#111');
text(11, 1218, 'MPace', 14.5, '#111');
text(11, 1276, '\u00a9 2021 NinjaTrader, LLC', 14.5, '#111');

// bottom scrollbar
rect(7, 1327, 1581, 1341, '#e3e3e3');
rect(7, 1327, 17, 1341, '#f0f0f0');
poly([[11, 1334], [14, 1330], [14, 1338]], '#222');
rect(1494, 1328, 1569, 1340, '#f2f2f2', '#bbb', 1);
poly([[1576, 1330], [1579, 1334], [1576, 1338]], '#222');

// top toolbar
rect(0, 0, 1722, 17, '#f1f3f3');
seg(0, 17.3, 1722, 17.3, '#000', 1.5);
rect(0, 0, 48, 15, '#85161c');
text(24, 7, 'Chart', 14, '#fff', 'center');
function selectBox(x0, y0, x1, y1, s, fill, color, size) {
  rect(x0, y0, x1, y1, fill || '#e9e9e9', '#666', 1);
  text(x0 + 6, (y0 + y1) / 2, s, size || 13, color || '#111');
  shapes.push({
    type: 'path', xref: 'paper', yref: 'paper', layer: 'above', line: { color: color || '#111', width: 2 },
    path: 'M' + px(x1 - 15) + ',' + py((y0 + y1) / 2 - 2) + ' L' + px(x1 - 11) + ',' + py((y0 + y1) / 2 + 2) + ' L' + px(x1 - 7) + ',' + py((y0 + y1) / 2 - 2)
  });
}
selectBox(66, -2, 190, 14.5, 'NQ 09-21');
selectBox(196, -2, 320, 14.5, '1 Minute');
// toolbar icons, plain strokes
[[341.5, 1], [369.6, 2], [396.4, 3], [425, 3], [452.7, 4], [481, 5], [509, 6], [537, 7], [565, 8], [593, 5], [620.5, 9]].forEach(function (ic, i) {
  var x = ic[0], k = ic[1], col = i === 3 ? '#bbb' : '#333';
  if (k === 1) { seg(x - 4, 4, x - 4, 14, col, 2); seg(x, 1, x, 13, col, 2.5); seg(x + 4, 3, x + 4, 14, col, 2); }
  if (k === 2) { seg(x - 5, 2, x + 5, 14, col, 2.5); }
  if (k === 3) {
    shapes.push({ type: 'circle', xref: 'paper', yref: 'paper', x0: px(x - 5), x1: px(x + 3), y0: py(10), y1: py(2), line: { color: col, width: 1 }, layer: 'above' });
    seg(x + 2, 9, x + 6, 14, col, 2);
  }
  if (k === 4) { rect(x - 6, 3, x + 6, 13, 'rgba(0,0,0,0)', col, 1); seg(x, 1, x, 15, col, 1); seg(x - 7, 8, x + 7, 8, col, 1); }
  if (k === 5) { rect(x - 5, 2, x + 5, 14, 'rgba(0,0,0,0)', col, 1); seg(x - 3, 6, x + 2, 6, col, 1); seg(x - 3, 9, x + 2, 9, col, 1); }
  if (k === 6) { seg(x - 5, 3, x + 1, 3, col, 1); rect(x + 2, 0, x + 6, 15, col); seg(x - 5, 10, x + 1, 10, col, 1); }
  if (k === 7) { seg(x - 4, 6, x - 4, 14, col, 1.5); seg(x - 1, 2, x - 1, 14, col, 1.5); seg(x + 2, 5, x + 2, 14, col, 1.5); seg(x + 5, 8, x + 5, 14, col, 1.5); }
  if (k === 8) { seg(x - 6, 14, x - 1, 3, col, 1); seg(x - 1, 3, x + 2, 10, col, 1); seg(x + 2, 10, x + 6, 1, col, 1); }
  if (k === 9) { seg(x - 3, 2, x + 8, 2, col, 1); seg(x - 3, 8, x + 8, 8, col, 1); seg(x - 3, 14, x + 8, 14, col, 1); rect(x - 7, 0, x - 5, 3, col); rect(x - 7, 6, x - 5, 9, col); rect(x - 7, 12, x - 5, 15, col); }
});
// window buttons
rect(1633, 0, 1648, 14, '#a9a9a9', '#777', 1);
rect(1652, 0, 1667, 14, '#ffa500', '#c98000', 1);
rect(1671, 0, 1686, 14, '#f0f0f0', '#777', 1); seg(1674, 10, 1683, 10, '#333', 1.5);
rect(1690, 0, 1705, 14, '#f0f0f0', '#777', 1); rect(1693, 3, 1702, 11, 'rgba(0,0,0,0)', '#333', 1);
rect(1709, 0, 1722, 14, '#f0f0f0', '#777', 1); seg(1712, 3, 1719, 11, '#333', 2); seg(1712, 11, 1719, 3, '#333', 2);

// order panel
function button(x0, y0, x1, y1, s, fill) {
  rect(x0, y0, x1, y1, fill, '#aaa', 1);
  text(x0 + 9, (y0 + y1) / 2 + 0.5, s, 14, '#fff');
}
button(1589, 24.5, 1652.5, 50.5, 'Buy Mk', '#33cc33');
button(1659.5, 24.5, 1723, 50.5, 'Sell Mk', '#db7093');
button(1589, 57.5, 1652.5, 83.5, 'Buy Asl', '#33cc33');
button(1659.5, 57.5, 1723, 83.5, 'Sell Asl', '#db7093');
button(1589, 90.5, 1652.5, 116.5, 'Buy Bic', '#33cc33');
button(1659.5, 90.5, 1723, 116.5, 'Sell Bic', '#db7093');
function greyButton(x0, x1, s) {
  rect(x0, 123.5, x1, 149.5, '#5c5c5c', '#aaa', 1);
  rect(x0 + 1, 124, x1 - 1, 130, '#a8a8a8');
  rect(x0 + 1, 130, x1 - 1, 135, '#808080');
  text((x0 + x1) / 2, 136.5, s, 14, '#fff', 'center');
}
greyButton(1589, 1652.5, 'Rev');
greyButton(1659.5, 1723, 'Close');
rect(1589, 157.7, 1655, 185, '#00d000');
rect(1655, 157.7, 1723, 185, '#b8b8b8');
text(1622, 171.5, '4', 12, '#000', 'center');
text(1689, 171.5, '14846.50', 12, '#000', 'center');
rect(1589, 185.5, 1723, 213, '#000');
text(1656, 199.5, '4.00', 12, '#22c022', 'center');
text(1589, 234.5, 'Instrument', 12, '#222');
text(1672, 234.5, 'TIF', 12, '#222');
selectBox(1589, 248.5, 1665, 268.5, 'NQ 09...', '#e6e6e6', '#aaa', 12);
selectBox(1672, 248.5, 1722, 268.5, 'G...', '#dedede', '#111', 12);
text(1589, 283, 'Account', 12, '#222');
text(1672, 283, 'Order qty', 12, '#222');
selectBox(1589, 297.5, 1665, 317.5, 'LL007...', '#dedede', '#111', 12);
rect(1672, 297.5, 1722, 317.5, '#f4f4f4', '#444', 1);
text(1684, 307.5, '4', 12, '#111');
rect(1696, 301, 1705, 314, '#444');
poly([[1712, 304], [1715, 301], [1718, 304]], '#222');
poly([[1712, 311], [1715, 314], [1718, 311]], '#222');
text(1589, 333, 'ATM Strategy', 12, '#222');
selectBox(1589, 347.5, 1722, 367.5, '', '#dedede', '#111', 12);
poly([[1603, 350], [1598, 358], [1601, 358], [1598, 365], [1606, 356], [1603, 356]], '#111');
text(1624, 358, '4 cont...', 12, '#111');
text(1589, 383, 'A:  14850.50   5', 12, '#222');
text(1589, 405, 'B:  14850.00   6', 12, '#222');

var tickFont = { family: FONT, size: 15, color: '#111' };
var layout = {
  width: W, height: H, autosize: false,
  margin: { l: 0, r: 0, t: 0, b: 0, pad: 0 },
  paper_bgcolor: '#eceff0', plot_bgcolor: 'rgba(0,0,0,0)',
  showlegend: false, hovermode: false, barmode: 'overlay', boxgap: 0.2,
  shapes: shapes, annotations: ann,
  xaxis: {
    type: 'date', domain: [px(6), px(1500.5)], anchor: 'y4',
    range: [timeOf(-7.71), timeOf(276.1)],
    tickmode: 'array', tickvals: timeTickMin.map(timeOf), tickformat: '%H:%M',
    ticks: 'outside', ticklen: 6, tickcolor: '#808080', tickfont: tickFont,
    showgrid: false, zeroline: false, showline: true, linecolor: '#808080', linewidth: 2,
    rangeslider: { visible: false }, fixedrange: true
  },
  yaxis: {
    domain: [py(818), py(24)], range: [14792.33, 14916.83], side: 'right', anchor: 'x',
    tickvals: priceTicks, tickformat: '.2f', ticks: 'outside', ticklen: 5, tickcolor: '#808080', tickfont: tickFont,
    showgrid: false, zeroline: false, showline: true, linecolor: '#808080', linewidth: 1.5, fixedrange: true
  },
  yaxis2: {
    domain: [py(995.4), py(818.5)], range: [-145.5, 56.9], side: 'right', anchor: 'x',
    tickvals: [50, 0, -50, -100], ticktext: ['', '0', '-50', '-100'], ticks: 'outside', ticklen: 5, tickcolor: '#808080', tickfont: tickFont,
    showgrid: false, zeroline: false, showline: true, linecolor: '#808080', linewidth: 1.5, fixedrange: true
  },
  yaxis3: {
    domain: [py(1203.5), py(995.4)], range: [-632.6, 639.4], side: 'right', anchor: 'x',
    tickvals: [600, 400, 200, -200, -400, -600], ticktext: ['', '400', '200', '-200', '-400', ''], ticks: 'outside', ticklen: 5, tickcolor: '#808080', tickfont: tickFont,
    showgrid: false, zeroline: false, showline: true, linecolor: '#808080', linewidth: 1.5, fixedrange: true
  },
  yaxis4: {
    domain: [py(1292.3), py(1203.5)], range: [-4526, 49786], side: 'right', anchor: 'x',
    tickvals: [40000, 20000], ticktext: ['40000', '20000'], ticks: 'outside', ticklen: 5, tickcolor: '#808080', tickfont: tickFont,
    showgrid: false, zeroline: false, showline: true, linecolor: '#808080', linewidth: 1.5, fixedrange: true
  }
};

Plotly.newPlot('plot', data, layout, { displayModeBar: false, staticPlot: true });
</script>
</body>
</html>
